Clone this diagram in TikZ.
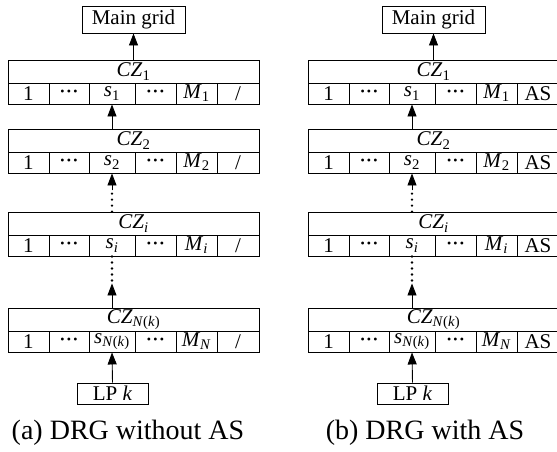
\documentclass[tikz,border=0pt]{standalone}
\usepackage{fontspec}
\setmainfont{Liberation Serif}
\usetikzlibrary{arrows.meta,calc}

\tikzset{
  box/.style={draw, line width=0.9pt, inner sep=0pt, font=\fontsize{21}{22}\selectfont},
  cell/.style={box, minimum height=21pt},
  head/.style={box, minimum height=23pt, minimum width=251pt},
  arr/.style={draw, line width=0.9pt, -{Triangle[length=12pt,width=9pt]}},
  dotline/.style={draw, line width=2.6pt, line cap=round, dash pattern=on 0pt off 6pt},
  caption/.style={inner sep=0pt, font=\fontsize{28}{30}\selectfont}
}

% three heavy mid-height dots
\newcommand\hdots{{\fontsize{12}{12}\selectfont\raisebox{1.5pt}{•\hspace{2.2pt}•\hspace{2.2pt}•}}}

% one cluster-zone table: name, left x, top y, zone label, s label, M label, last cell
\newcommand\cztab[7]{%
  \node[head] (#1t) at ({#2+125.5},{#3+11.5}) {#4};
  \node[cell, minimum width=41pt] (#1c1) at ({#2+20.5},{#3+33.5}) {1};
  \node[cell, minimum width=40pt] (#1c2) at ({#2+61},{#3+33.5}) {\hdots};
  \node[cell, minimum width=46pt] (#1s)  at ({#2+104},{#3+33.5}) {#5};
  \node[cell, minimum width=41pt] (#1c4) at ({#2+147.5},{#3+33.5}) {\hdots};
  \node[cell, minimum width=41pt] (#1c5) at ({#2+188.5},{#3+33.5}) {#6};
  \node[cell, minimum width=42pt] (#1c6) at ({#2+230},{#3+33.5}) {#7};
}

\newcommand\czl[1]{\textit{CZ}\textsubscript{#1}}

% one complete chain: prefix, left x, last-cell text
\newcommand\drgchain[3]{%
  \node[box, minimum width=103pt, minimum height=27pt] (#1mg) at ({#2+125.5},19.5) {Main grid};
  \cztab{#1a}{#2}{60}{\czl{1}}{\textit{s}\textsubscript{1}}{\textit{M}\textsubscript{1}}{#3}
  \cztab{#1b}{#2}{129}{\czl{2}}{\textit{s}\textsubscript{2}}{\textit{M}\textsubscript{2}}{#3}
  \cztab{#1c}{#2}{212}{\czl{\textit{i}}}{\textit{s}\textsubscript{\textit{i}}}{\textit{M}\textsubscript{\textit{i}}}{#3}
  \cztab{#1d}{#2}{308}{\czl{\textit{N}(\textit{k})}}{\textit{s}\textsubscript{\textit{N}(\textit{k})}}{\textit{M}\textsubscript{\textit{N}}}{#3}
  \node[box, minimum width=71pt, minimum height=21pt] (#1lp) at ({#2+104.5},393.5) {LP \textit{k}};
  \draw[arr] (#1at.north -| #1mg.south) -- (#1mg.south);
  \draw[arr] (#1bt.north -| #1as.south) -- (#1as.south);
  \coordinate (#1up) at ($(#1bs.south)+(0,17)$);
  \draw[arr] (#1up) -- (#1bs.south);
  \draw[dotline] (#1ct.north -| #1up) -- (#1up);
  \coordinate (#1dn) at ($(#1cs.south)+(0,27)$);
  \draw[dotline] (#1cs.south) -- (#1dn);
  \draw[arr] (#1dt.north -| #1dn) -- (#1dn);
  \draw[arr] (#1lp.north) -- (#1ds.south);
}

\begin{document}
\begin{tikzpicture}[x=1pt, y=-1pt]
  \useasboundingbox (0,0) rectangle (557,451);
  \clip (0,0) rectangle (557,451);
  \drgchain{L}{8}{/}
  \drgchain{R}{308}{AS}
  \node[caption] (capa) at (128,433) {(a) DRG without AS};
  \node[caption] (capb) at (425,433) {(b) DRG with AS};
\end{tikzpicture}
\end{document}
